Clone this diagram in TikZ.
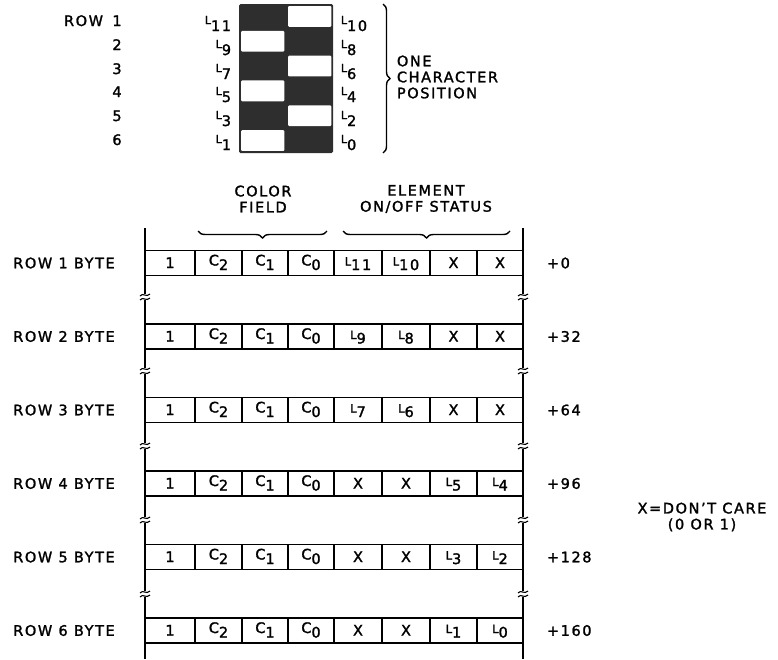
\documentclass[tikz,border=0pt]{standalone}
\usepackage{fontspec}
\setmainfont{DejaVu Sans}[LetterSpace=11,FakeBold=1.6]
\usetikzlibrary{decorations.pathreplacing}
\newcommand\Cc[1]{C\raisebox{-4.5pt}{#1}}
\newcommand\Lc[1]{{\fontsize{11.5}{11.5}\selectfont L}\raisebox{-4.5pt}{#1}}
\newcommand\Lt[1]{{\fontsize{11}{11}\selectfont L}\raisebox{-7pt}{#1}}
\newcommand\Xc{\raisebox{-2.5pt}{X}}
\newcommand\brk[2]{%
  \fill[white] ({#1-6},{#2-3}) rectangle ({#1+6},{#2+3});
  \draw[line width=1.1pt] ({#1-5},{#2-1}) .. controls ({#1-2},{#2-5}) and ({#1+1},{#2+1}) .. ({#1+5},{#2-3});
  \draw[line width=1.1pt] ({#1-5},{#2+3}) .. controls ({#1-2},{#2-1}) and ({#1+1},{#2+5}) .. ({#1+5},{#2+1});}
\newcommand\byterow[7]{%
  \draw ({145},{#2-12.5}) rectangle ({523},{#2+12.5});
  \foreach \xx in {195,242,288,334,382,430,477}
    \draw (\xx,{#2-12.5}) -- (\xx,{#2+12.5});
  \node[lbl] (rl#1) at (64,#2) {ROW #1 BYTE};
  \node[lbl,anchor=base] (c#1a) at (170,{#2+5}) {1};
  \node[lbl,anchor=base] (c#1b) at (218.5,{#2+2.5}) {\Cc{2}};
  \node[lbl,anchor=base] (c#1c) at (265,{#2+2.5}) {\Cc{1}};
  \node[lbl,anchor=base] (c#1d) at (311,{#2+2.5}) {\Cc{0}};
  \node[lbl,anchor=base] (c#1e) at (358,{#2+2.5}) {#3};
  \node[lbl,anchor=base] (c#1f) at (406,{#2+2.5}) {#4};
  \node[lbl,anchor=base] (c#1g) at (453.5,{#2+2.5}) {#5};
  \node[lbl,anchor=base] (c#1h) at (500,{#2+2.5}) {#6};
  \node[lbl,anchor=west] (off#1) at (546,#2) {#7};}
\begin{document}
\begin{tikzpicture}[x=1pt,y=-1pt,line width=1.9pt,
  lbl/.style={font=\fontsize{14.5}{16}\selectfont,inner sep=0pt},
  cb/.style={line width=1.4pt,decorate,decoration={brace,amplitude=7pt}}]
\useasboundingbox (0,0) rectangle (778,659);
% character checkerboard
\fill[black!82,rounded corners=1.5pt] (239,4) rectangle (333,153);
\foreach \r in {1,...,6}{
  \pgfmathsetmacro\yt{4+24.83*(\r-1)}
  \pgfmathsetmacro\xl{isodd(\r) ? 286 : 239}
  \fill[white,rounded corners=1pt] ({\xl+2.2},{\yt+2}) rectangle ({\xl+45.3},{\yt+22.8});
}
\node[lbl,anchor=base east] (rowword) at (104,26) {ROW};
\foreach \r/\yb in {1/26,2/50,3/74,4/97,5/121,6/145}
  \node[lbl,anchor=base] (rn\r) at (117,\yb) {\r};
\foreach \r/\yb/\lt/\rt in {1/24/11/10,2/48/9/8,3/72/7/6,4/95/5/4,5/119/3/2,6/143/1/0}{
  \node[lbl,anchor=base east] (ll\r) at (232,\yb) {\Lt{\lt}};
  \node[lbl,anchor=base west] (lr\r) at (340,\yb) {\Lt{\rt}};
}
\coordinate (bt) at (383,4);
\coordinate (bb) at (383,153);
\draw[cb] (bt) -- (bb);
\node[lbl,anchor=west,align=left] (ocp) at (396,77) {ONE\\CHARACTER\\POSITION};
% byte field headings
\node[lbl,align=center] (cf) at (263,199) {COLOR\\FIELD};
\node[lbl,align=center] (el) at (426,199) {ELEMENT\\ON/OFF STATUS};
\coordinate (cfl) at (198,231);
\coordinate (cfr) at (327,231);
\coordinate (ell) at (343,231);
\coordinate (elr) at (510,231);
\draw[cb] (cfr) -- (cfl);
\draw[cb] (elr) -- (ell);
% long verticals
\coordinate (vlt) at (145,228); \coordinate (vlb) at (145,659);
\coordinate (vrt) at (523,228); \coordinate (vrb) at (523,659);
\draw (vlt) -- (vlb);
\draw (vrt) -- (vrb);
\byterow{1}{263}{\Lc{11}}{\Lc{10}}{\Xc}{\Xc}{+0}
\byterow{2}{336.5}{\Lc{9}}{\Lc{8}}{\Xc}{\Xc}{+32}
\byterow{3}{410}{\Lc{7}}{\Lc{6}}{\Xc}{\Xc}{+64}
\byterow{4}{483.5}{\Xc}{\Xc}{\Lc{5}}{\Lc{4}}{+96}
\byterow{5}{557}{\Xc}{\Xc}{\Lc{3}}{\Lc{2}}{+128}
\byterow{6}{630.5}{\Xc}{\Xc}{\Lc{1}}{\Lc{0}}{+160}
\foreach \yy in {297,371,446,520,594}{
  \brk{145}{\yy}
  \brk{523}{\yy}
}
\node[lbl,align=center] (dc) at (702,517) {X=DON'T CARE\\(0 OR 1)};
\end{tikzpicture}
\end{document}
